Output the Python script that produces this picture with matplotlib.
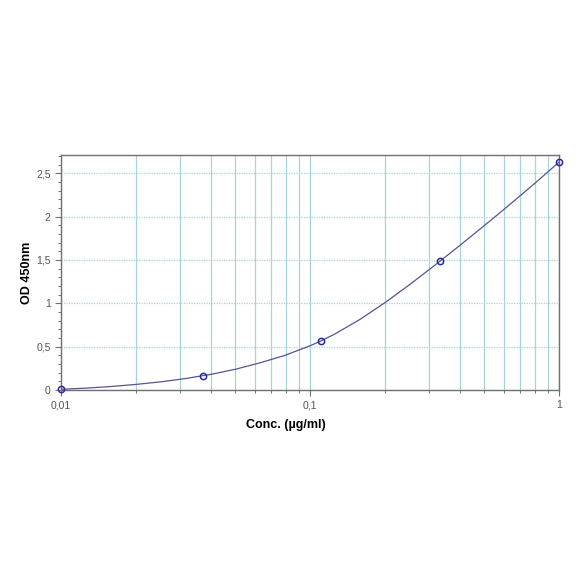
import matplotlib
matplotlib.use("Agg")
import matplotlib.pyplot as plt
from matplotlib.ticker import FixedLocator, FixedFormatter, MultipleLocator, LogLocator, NullFormatter

plt.rcParams['font.family'] = ['Liberation Sans', 'DejaVu Sans']

# Standard points
conc = [0.01, 0.037, 0.111, 0.333, 1.0]
od = [0.008, 0.165, 0.565, 1.49, 2.63]

# Fitted curve
curve_x = [0.01, 0.01259, 0.01585, 0.01995, 0.02512, 0.03162, 0.037, 0.03981, 0.05012,
           0.0631, 0.07943, 0.1, 0.111, 0.1259, 0.1585, 0.1995, 0.2512, 0.3162, 0.333,
           0.3981, 0.5012, 0.631, 0.7943, 1.0]
curve_y = [0.008, 0.0215, 0.040, 0.064, 0.094, 0.132, 0.165, 0.179, 0.239,
           0.314, 0.40, 0.51, 0.567, 0.646, 0.813, 1.005, 1.215, 1.436, 1.487,
           1.663, 1.896, 2.133, 2.376, 2.628]

x_ticks = [0.01, 0.1, 1]
x_labels = ["0,01", "0,1", "1"]
y_ticks = [0, 0.5, 1, 1.5, 2, 2.5]
y_labels = ["0", "0,5", "1", "1,5", "2", "2,5"]

fig = plt.figure(figsize=(5.84, 5.84), dpi=100)
ax = fig.add_axes([0.1045, 0.3322, 0.8527, 0.4024])
ax.set_xscale("log")
ax.set_xlim(0.01, 1)
ax.set_ylim(0, 2.71)

grid_col = "#a9d3dc"
ax.xaxis.set_major_locator(FixedLocator(x_ticks))
ax.xaxis.set_major_formatter(FixedFormatter(x_labels))
ax.xaxis.set_minor_locator(LogLocator(base=10, subs=range(2, 10)))
ax.xaxis.set_minor_formatter(NullFormatter())
ax.yaxis.set_major_locator(FixedLocator(y_ticks))
ax.yaxis.set_major_formatter(FixedFormatter(y_labels))
ax.yaxis.set_minor_locator(MultipleLocator(0.1))

ax.grid(True, which="both", axis="x", color=grid_col, linewidth=0.9, linestyle="-")
ax.grid(True, which="major", axis="y", color=grid_col, linewidth=0.9, linestyle=(0, (1, 1)))
ax.set_axisbelow(True)

for s in ax.spines.values():
    s.set_color("#707070")
    s.set_linewidth(1.0)

ax.tick_params(axis="both", which="major", direction="out", length=4, width=0.8,
               color="#707070", labelsize=7.5, labelcolor="#555555")
ax.tick_params(axis="both", which="minor", direction="out", length=2, width=0.7,
               color="#707070")

ax.plot(curve_x, curve_y, color="#55558f", linewidth=0.9, zorder=3)
ax.plot(conc, od, linestyle="none", marker="o", markersize=4.5, markerfacecolor="none",
        markeredgecolor="#2a2aa0", markeredgewidth=1.1, zorder=4, clip_on=False)

ax.set_xlabel("Conc. (µg/ml)", fontsize=9, fontweight="bold")
ax.set_ylabel("OD 450nm", fontsize=9, fontweight="bold")
ax.xaxis.set_label_coords(0.452, -0.149)
ax.yaxis.set_label_coords(-0.068, 0.5)
ax.xaxis.label.set_va("center")
ax.yaxis.label.set_va("center")

fig.savefig("out.png", dpi=100)
